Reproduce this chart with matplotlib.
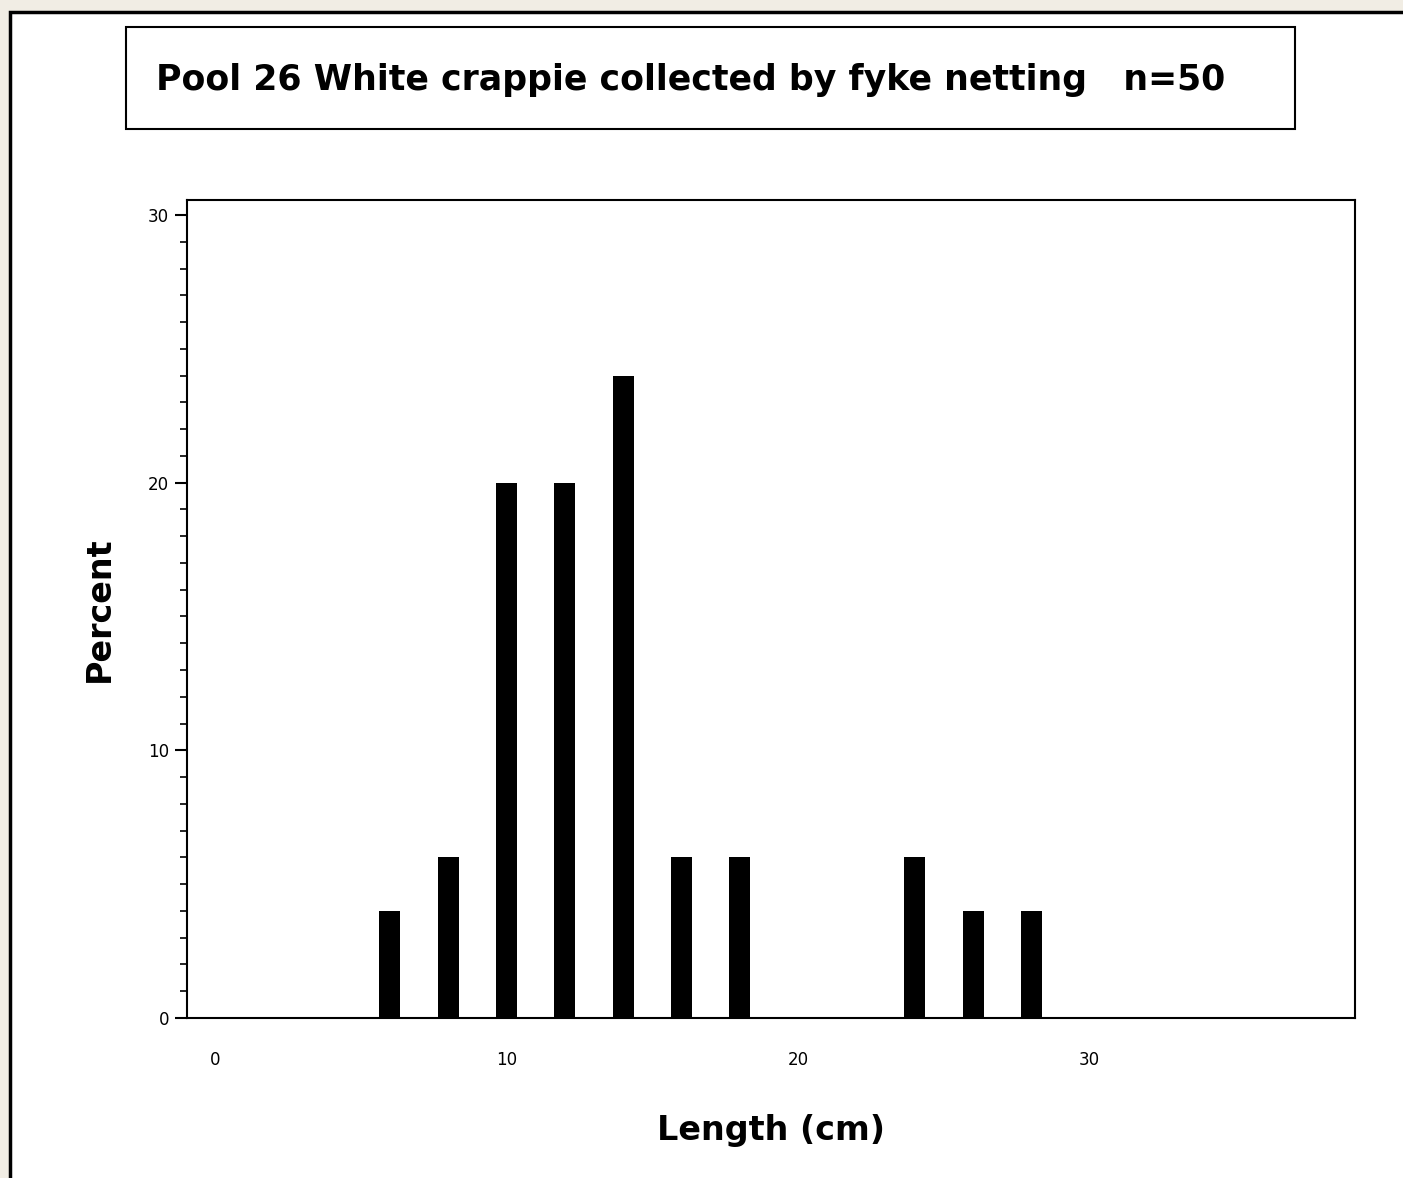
import matplotlib.pyplot as plt
from matplotlib.patches import Rectangle
from matplotlib.ticker import MultipleLocator

# length classes (cm) and percent of catch
lengths = [6, 8, 10, 12, 14, 16, 18, 24, 26, 28]
percent = [4, 6, 20, 20, 24, 6, 6, 6, 4, 4]
x_ticks = [0, 10, 20, 30]
y_ticks = [0, 10, 20, 30]
title = 'Pool 26 White crappie collected by fyke netting   n=50'

W, H = 1403, 1178
fig = plt.figure(figsize=(W / 100, H / 100), dpi=100)
fig.patch.set_facecolor('#f1ede4')

# white panel with black border (runs off the right and bottom edges)
fig.patches.append(Rectangle((10 / W, -0.1), 1.2, 1.1 - 12 / H, transform=fig.transFigure,
                             facecolor='white', edgecolor='black', linewidth=2.5,
                             zorder=-2))

# title box
fig.patches.append(Rectangle((126 / W, 1 - 129 / H), (1295 - 126) / W, (129 - 27) / H,
                             transform=fig.transFigure, facecolor='white',
                             edgecolor='black', linewidth=1.5, zorder=-1))
fig.text(691 / W, 1 - 80 / H, title, ha='center', va='center', fontsize=25,
         fontweight='bold', family='DejaVu Sans')

ax = fig.add_axes([187 / W, 1 - 1018 / H, (1355 - 187) / W, (1018 - 200) / H])
ax.bar(lengths, percent, width=0.72, color='black')
ax.set_xlim(-0.96, 39.1)
ax.set_ylim(0, 30.56)
ax.set_xticks(x_ticks)
ax.set_yticks(y_ticks)
ax.yaxis.set_minor_locator(MultipleLocator(1))
ax.tick_params(axis='x', length=0, pad=24, labelsize=12)
ax.tick_params(axis='y', which='major', length=9, width=1.5, labelsize=12, pad=4)
ax.tick_params(axis='y', which='minor', length=5, width=1.2)
for sp in ax.spines.values():
    sp.set_linewidth(1.5)

ax.set_xlabel('Length (cm)', fontsize=24, fontweight='bold', family='DejaVu Sans',
              labelpad=32)
ax.set_ylabel('Percent', fontsize=24, fontweight='bold', family='DejaVu Sans',
              labelpad=23)

fig.savefig('out.png', dpi=100, facecolor=fig.get_facecolor())
